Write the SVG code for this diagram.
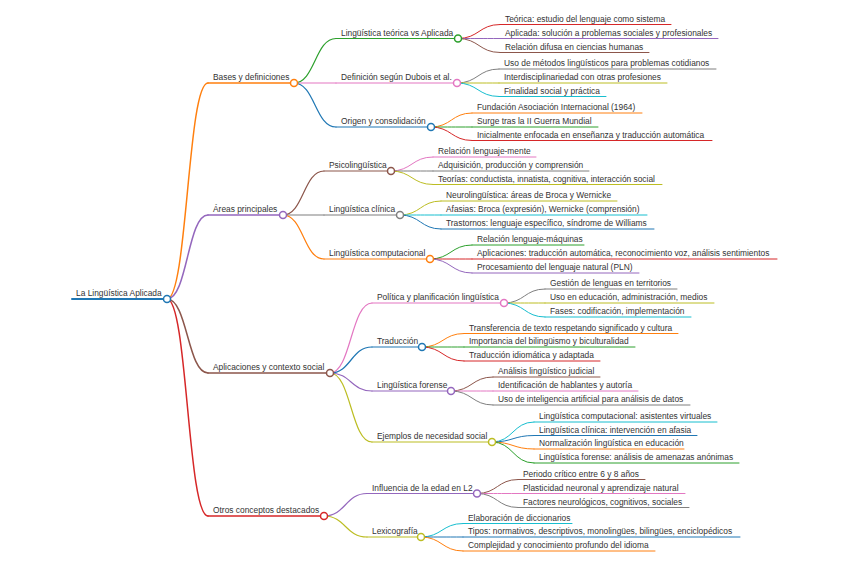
<svg xmlns="http://www.w3.org/2000/svg" width="848" height="565" viewBox="0 0 848 565">
<style>
text{font-family:"Liberation Sans",Arial,sans-serif;font-size:8.4px;fill:#333}
path,line{fill:none;stroke-linecap:round}
circle{fill:#fff;stroke-width:1.5}
.l0{stroke-width:2}.l1{stroke-width:1.5}.l2{stroke-width:1.2}.l3{stroke-width:1}
.blue{stroke:#1f77b4}.orange{stroke:#ff7f0e}.green{stroke:#2ca02c}.red{stroke:#d62728}.purple{stroke:#9467bd}
.brown{stroke:#8c564b}.pink{stroke:#e377c2}.gray{stroke:#7f7f7f}.olive{stroke:#bcbd22}.cyan{stroke:#17becf}
</style>
<rect width="848" height="565" fill="#fff"/>
<g id="connectors">
<path class="l1 orange" d="M167,299 C187.5,299 187.5,83 208,83"/>
<path class="l1 purple" d="M167,299 C187.5,299 187.5,215 208,215"/>
<path class="l1 brown" d="M167,299 C187.5,299 187.5,373 208,373"/>
<path class="l1 red" d="M167,299 C187.5,299 187.5,516 208,516"/>
<path class="l2 green" d="M294,83 C315,83 315,38.5 336,38.5"/>
<path class="l2 pink" d="M294,83 C315,83 315,83 336,83"/>
<path class="l2 blue" d="M294,83 C315,83 315,127 336,127"/>
<path class="l3 red" d="M458,38.5 C479,38.5 479,24.5 500,24.5"/>
<path class="l3 purple" d="M458,38.5 C479,38.5 479,38.5 500,38.5"/>
<path class="l3 brown" d="M458,38.5 C479,38.5 479,52.5 500,52.5"/>
<path class="l3 gray" d="M457,83 C478,83 478,69 499,69"/>
<path class="l3 olive" d="M457,83 C478,83 478,83 499,83"/>
<path class="l3 cyan" d="M457,83 C478,83 478,96.5 499,96.5"/>
<path class="l3 orange" d="M431,127 C451.5,127 451.5,113 472,113"/>
<path class="l3 green" d="M431,127 C451.5,127 451.5,127 472,127"/>
<path class="l3 red" d="M431,127 C451.5,127 451.5,140.5 472,140.5"/>
<path class="l2 brown" d="M283,215 C303.5,215 303.5,171 324,171"/>
<path class="l2 gray" d="M283,215 C303.5,215 303.5,215 324,215"/>
<path class="l2 orange" d="M283,215 C303.5,215 303.5,259 324,259"/>
<path class="l3 pink" d="M391,171 C412,171 412,157 433,157"/>
<path class="l3 gray" d="M391,171 C412,171 412,171 433,171"/>
<path class="l3 olive" d="M391,171 C412,171 412,184.5 433,184.5"/>
<path class="l3 olive" d="M400,215 C420.5,215 420.5,201 441,201"/>
<path class="l3 cyan" d="M400,215 C420.5,215 420.5,215 441,215"/>
<path class="l3 blue" d="M400,215 C420.5,215 420.5,229 441,229"/>
<path class="l3 green" d="M430,259 C451,259 451,245 472,245"/>
<path class="l3 red" d="M430,259 C451,259 451,259 472,259"/>
<path class="l3 purple" d="M430,259 C451,259 451,273 472,273"/>
<path class="l2 pink" d="M330,373 C351,373 351,303 372,303"/>
<path class="l2 blue" d="M330,373 C351,373 351,347 372,347"/>
<path class="l2 purple" d="M330,373 C351,373 351,391 372,391"/>
<path class="l2 olive" d="M330,373 C351,373 351,442 372,442"/>
<path class="l3 gray" d="M504,303 C524.5,303 524.5,289 545,289"/>
<path class="l3 olive" d="M504,303 C524.5,303 524.5,303 545,303"/>
<path class="l3 cyan" d="M504,303 C524.5,303 524.5,317 545,317"/>
<path class="l3 orange" d="M422,347 C443,347 443,333.5 464,333.5"/>
<path class="l3 green" d="M422,347 C443,347 443,347 464,347"/>
<path class="l3 red" d="M422,347 C443,347 443,361 464,361"/>
<path class="l3 brown" d="M451,391 C472,391 472,377 493,377"/>
<path class="l3 pink" d="M451,391 C472,391 472,391 493,391"/>
<path class="l3 gray" d="M451,391 C472,391 472,405 493,405"/>
<path class="l3 cyan" d="M492,442 C513,442 513,422 534,422"/>
<path class="l3 blue" d="M492,442 C513,442 513,435.5 534,435.5"/>
<path class="l3 orange" d="M492,442 C513,442 513,449 534,449"/>
<path class="l3 green" d="M492,442 C513,442 513,463 534,463"/>
<path class="l2 purple" d="M324,516 C345.5,516 345.5,493.5 367,493.5"/>
<path class="l2 olive" d="M324,516 C345.5,516 345.5,537 367,537"/>
<path class="l3 brown" d="M477,493.5 C497.5,493.5 497.5,479.5 518,479.5"/>
<path class="l3 pink" d="M477,493.5 C497.5,493.5 497.5,493.5 518,493.5"/>
<path class="l3 gray" d="M477,493.5 C497.5,493.5 497.5,507.5 518,507.5"/>
<path class="l3 cyan" d="M421,537 C442,537 442,523.5 463,523.5"/>
<path class="l3 blue" d="M421,537 C442,537 442,537 463,537"/>
<path class="l3 orange" d="M421,537 C442,537 442,551 463,551"/>
</g>
<g id="root"><line class="l0 blue" x1="72" y1="299" x2="167" y2="299"/><circle class="blue" cx="167" cy="299" r="3.5"/><text x="76" y="296">La Lingüística Aplicada</text></g>
<g id="bases"><line class="l1 orange" x1="208" y1="83" x2="294" y2="83"/><circle class="orange" cx="294" cy="83" r="3.5"/><text x="213" y="80">Bases y definiciones</text></g>
<g id="areas"><line class="l1 purple" x1="208" y1="215" x2="283" y2="215"/><circle class="purple" cx="283" cy="215" r="3.5"/><text x="213" y="212">Áreas principales</text></g>
<g id="aplicaciones"><line class="l1 brown" x1="208" y1="373" x2="330" y2="373"/><circle class="brown" cx="330" cy="373" r="3.5"/><text x="213" y="370">Aplicaciones y contexto social</text></g>
<g id="otros"><line class="l1 red" x1="208" y1="516" x2="324" y2="516"/><circle class="red" cx="324" cy="516" r="3.5"/><text x="213" y="513">Otros conceptos destacados</text></g>

<g id="teorica-vs"><line class="l2 green" x1="336" y1="38.5" x2="458" y2="38.5"/><circle class="green" cx="458" cy="38.5" r="3.5"/><text x="341" y="35.5">Lingüística teórica vs Aplicada</text></g>
<g id="dubois"><line class="l2 pink" x1="336" y1="83" x2="457" y2="83"/><circle class="pink" cx="457" cy="83" r="3.5"/><text x="341" y="80">Definición según Dubois et al.</text></g>
<g id="origen"><line class="l2 blue" x1="336" y1="127" x2="431" y2="127"/><circle class="blue" cx="431" cy="127" r="3.5"/><text x="341" y="124">Origen y consolidación</text></g>

<g id="t1"><line class="l3 red" x1="500" y1="24.5" x2="671" y2="24.5"/><text x="505" y="21.5">Teórica: estudio del lenguaje como sistema</text></g>
<g id="t2"><line class="l3 purple" x1="500" y1="38.5" x2="718" y2="38.5"/><text x="505" y="35.5">Aplicada: solución a problemas sociales y profesionales</text></g>
<g id="t3"><line class="l3 brown" x1="500" y1="52.5" x2="649" y2="52.5"/><text x="505" y="49.5">Relación difusa en ciencias humanas</text></g>
<g id="d1"><line class="l3 gray" x1="499" y1="69" x2="716" y2="69"/><text x="504" y="66">Uso de métodos lingüísticos para problemas cotidianos</text></g>
<g id="d2"><line class="l3 olive" x1="499" y1="83" x2="667" y2="83"/><text x="504" y="80">Interdisciplinariedad con otras profesiones</text></g>
<g id="d3"><line class="l3 cyan" x1="499" y1="96.5" x2="606" y2="96.5"/><text x="504" y="93.5">Finalidad social y práctica</text></g>
<g id="o1"><line class="l3 orange" x1="472" y1="113" x2="642" y2="113"/><text x="477" y="110">Fundación Asociación Internacional (1964)</text></g>
<g id="o2"><line class="l3 green" x1="472" y1="127" x2="598" y2="127"/><text x="477" y="124">Surge tras la II Guerra Mundial</text></g>
<g id="o3"><line class="l3 red" x1="472" y1="140.5" x2="712" y2="140.5"/><text x="477" y="137.5">Inicialmente enfocada en enseñanza y traducción automática</text></g>

<g id="psico"><line class="l2 brown" x1="324" y1="171" x2="391" y2="171"/><circle class="brown" cx="391" cy="171" r="3.5"/><text x="329" y="168">Psicolingüística</text></g>
<g id="clinica"><line class="l2 gray" x1="324" y1="215" x2="400" y2="215"/><circle class="gray" cx="400" cy="215" r="3.5"/><text x="329" y="212">Lingüística clínica</text></g>
<g id="computacional"><line class="l2 orange" x1="324" y1="259" x2="430" y2="259"/><circle class="orange" cx="430" cy="259" r="3.5"/><text x="329" y="256">Lingüística computacional</text></g>

<g id="p1"><line class="l3 pink" x1="433" y1="157" x2="536" y2="157"/><text x="438" y="154">Relación lenguaje-mente</text></g>
<g id="p2"><line class="l3 gray" x1="433" y1="171" x2="589" y2="171"/><text x="438" y="168">Adquisición, producción y comprensión</text></g>
<g id="p3"><line class="l3 olive" x1="433" y1="184.5" x2="662" y2="184.5"/><text x="438" y="181.5">Teorías: conductista, innatista, cognitiva, interacción social</text></g>
<g id="c1"><line class="l3 olive" x1="441" y1="201" x2="617" y2="201"/><text x="446" y="198">Neurolingüística: áreas de Broca y Wernicke</text></g>
<g id="c2"><line class="l3 cyan" x1="441" y1="215" x2="647" y2="215"/><text x="446" y="212">Afasias: Broca (expresión), Wernicke (comprensión)</text></g>
<g id="c3"><line class="l3 blue" x1="441" y1="229" x2="654" y2="229"/><text x="446" y="226">Trastornos: lenguaje específico, síndrome de Williams</text></g>
<g id="m1"><line class="l3 green" x1="472" y1="245" x2="584" y2="245"/><text x="477" y="242">Relación lenguaje-máquinas</text></g>
<g id="m2"><line class="l3 red" x1="472" y1="259" x2="777" y2="259"/><text x="477" y="256">Aplicaciones: traducción automática, reconocimiento voz, análisis sentimientos</text></g>
<g id="m3"><line class="l3 purple" x1="472" y1="273" x2="639" y2="273"/><text x="477" y="270">Procesamiento del lenguaje natural (PLN)</text></g>

<g id="politica"><line class="l2 pink" x1="372" y1="303" x2="504" y2="303"/><circle class="pink" cx="504" cy="303" r="3.5"/><text x="377" y="300">Política y planificación lingüística</text></g>
<g id="traduccion"><line class="l2 blue" x1="372" y1="347" x2="422" y2="347"/><circle class="blue" cx="422" cy="347" r="3.5"/><text x="377" y="344">Traducción</text></g>
<g id="forense"><line class="l2 purple" x1="372" y1="391" x2="451" y2="391"/><circle class="purple" cx="451" cy="391" r="3.5"/><text x="377" y="388">Lingüística forense</text></g>
<g id="ejemplos"><line class="l2 olive" x1="372" y1="442" x2="492" y2="442"/><circle class="olive" cx="492" cy="442" r="3.5"/><text x="377" y="439">Ejemplos de necesidad social</text></g>

<g id="pl1"><line class="l3 gray" x1="545" y1="289" x2="677" y2="289"/><text x="550" y="286">Gestión de lenguas en territorios</text></g>
<g id="pl2"><line class="l3 olive" x1="545" y1="303" x2="714" y2="303"/><text x="550" y="300">Uso en educación, administración, medios</text></g>
<g id="pl3"><line class="l3 cyan" x1="545" y1="317" x2="691" y2="317"/><text x="550" y="314">Fases: codificación, implementación</text></g>
<g id="tr1"><line class="l3 orange" x1="464" y1="333.5" x2="678" y2="333.5"/><text x="469" y="330.5">Transferencia de texto respetando significado y cultura</text></g>
<g id="tr2"><line class="l3 green" x1="464" y1="347" x2="635" y2="347"/><text x="469" y="344">Importancia del bilingüismo y biculturalidad</text></g>
<g id="tr3"><line class="l3 red" x1="464" y1="361" x2="600" y2="361"/><text x="469" y="358">Traducción idiomática y adaptada</text></g>
<g id="f1"><line class="l3 brown" x1="493" y1="377" x2="600" y2="377"/><text x="498" y="374">Análisis lingüístico judicial</text></g>
<g id="f2"><line class="l3 pink" x1="493" y1="391" x2="638" y2="391"/><text x="498" y="388">Identificación de hablantes y autoría</text></g>
<g id="f3"><line class="l3 gray" x1="493" y1="405" x2="690" y2="405"/><text x="498" y="402">Uso de inteligencia artificial para análisis de datos</text></g>
<g id="e1"><line class="l3 cyan" x1="534" y1="422" x2="717" y2="422"/><text x="539" y="419">Lingüística computacional: asistentes virtuales</text></g>
<g id="e2"><line class="l3 blue" x1="534" y1="435.5" x2="697" y2="435.5"/><text x="539" y="432.5">Lingüística clínica: intervención en afasia</text></g>
<g id="e3"><line class="l3 orange" x1="534" y1="449" x2="684" y2="449"/><text x="539" y="446">Normalización lingüística en educación</text></g>
<g id="e4"><line class="l3 green" x1="534" y1="463" x2="739" y2="463"/><text x="539" y="460">Lingüística forense: análisis de amenazas anónimas</text></g>

<g id="influencia"><line class="l2 purple" x1="367" y1="493.5" x2="477" y2="493.5"/><circle class="purple" cx="477" cy="493.5" r="3.5"/><text x="372" y="490.5">Influencia de la edad en L2</text></g>
<g id="lexicografia"><line class="l2 olive" x1="367" y1="537" x2="421" y2="537"/><circle class="olive" cx="421" cy="537" r="3.5"/><text x="372" y="534">Lexicografía</text></g>

<g id="i1"><line class="l3 brown" x1="518" y1="479.5" x2="645" y2="479.5"/><text x="523" y="476.5">Periodo crítico entre 6 y 8 años</text></g>
<g id="i2"><line class="l3 pink" x1="518" y1="493.5" x2="685" y2="493.5"/><text x="523" y="490.5">Plasticidad neuronal y aprendizaje natural</text></g>
<g id="i3"><line class="l3 gray" x1="518" y1="507.5" x2="689" y2="507.5"/><text x="523" y="504.5">Factores neurológicos, cognitivos, sociales</text></g>
<g id="x1"><line class="l3 cyan" x1="463" y1="523.5" x2="572" y2="523.5"/><text x="468" y="520.5">Elaboración de diccionarios</text></g>
<g id="x2"><line class="l3 blue" x1="463" y1="537" x2="740" y2="537"/><text x="468" y="534">Tipos: normativos, descriptivos, monolingües, bilingües, enciclopédicos</text></g>
<g id="x3"><line class="l3 orange" x1="463" y1="551" x2="655" y2="551"/><text x="468" y="548">Complejidad y conocimiento profundo del idioma</text></g>
</svg>
